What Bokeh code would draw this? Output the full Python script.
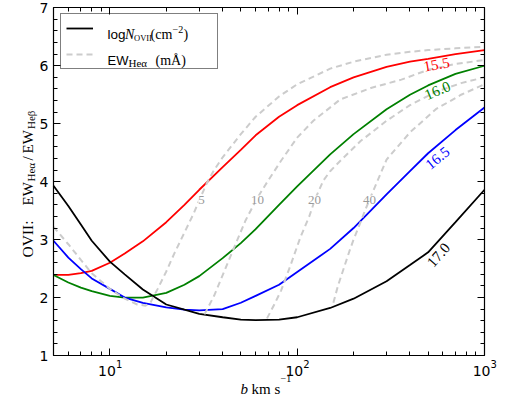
from math import log10, pi
from bokeh.plotting import figure
from bokeh.models import (Range1d, LinearAxis, LogAxis, Label, Legend, LegendItem,
                          FixedTicker, SingleIntervalTicker, CustomJSTickFormatter)
from bokeh.embed import file_html
from bokeh.resources import INLINE

# ---------------- data ----------------
b_kms = [5, 6, 7, 8, 10, 12, 15, 20, 25, 30, 40, 50, 60, 80, 100, 150, 200, 300, 400, 500, 700, 1000]
ratio_N155 = [2.39, 2.39, 2.42, 2.46, 2.60, 2.76, 2.97, 3.30, 3.60, 3.86, 4.25, 4.55, 4.80, 5.12, 5.32, 5.63, 5.80, 5.98, 6.07, 6.12, 6.20, 6.27]
ratio_N160 = [2.39, 2.26, 2.17, 2.11, 2.03, 2.00, 2.00, 2.08, 2.22, 2.37, 2.68, 2.94, 3.18, 3.60, 3.92, 4.47, 4.82, 5.25, 5.50, 5.66, 5.86, 6.00]
ratio_N165 = [2.98, 2.69, 2.49, 2.33, 2.15, 2.00, 1.91, 1.83, 1.79, 1.78, 1.80, 1.91, 2.03, 2.22, 2.44, 2.84, 3.20, 3.78, 4.18, 4.49, 4.89, 5.28]
ratio_N170 = [3.93, 3.58, 3.26, 2.98, 2.62, 2.40, 2.14, 1.88, 1.79, 1.72, 1.66, 1.62, 1.61, 1.62, 1.66, 1.82, 1.98, 2.28, 2.56, 2.78, 3.30, 3.86]
logN_labels = ["15.5", "16.0", "16.5", "17.0"]

ew5_b = [5, 6, 7, 8, 10, 12, 14, 15.5, 16.5, 18, 20, 22, 25, 28, 30, 33, 36, 40, 50, 60, 80, 100, 150, 200, 300, 400, 500, 700, 1000]
ew5_r = [3.22, 2.92, 2.65, 2.42, 2.15, 1.98, 1.88, 1.86, 1.92, 2.15, 2.45, 2.75, 3.12, 3.45, 3.68, 3.98, 4.20, 4.42, 4.82, 5.12, 5.47, 5.68, 5.95, 6.07, 6.19, 6.24, 6.27, 6.30, 6.33]
ew10_b = [32, 36, 41, 47, 53, 61, 70, 82, 100, 122, 170, 250, 360, 500, 700, 1000]
ew10_r = [1.71, 2.03, 2.47, 2.93, 3.33, 3.71, 4.02, 4.36, 4.76, 5.05, 5.42, 5.62, 5.76, 5.93, 6.03, 6.10]
ew20_b = [69, 76, 82, 92, 104, 116, 125, 138, 150, 170, 218, 300, 400, 550, 750, 1000]
ew20_r = [1.64, 1.90, 2.12, 2.55, 3.04, 3.40, 3.71, 4.02, 4.18, 4.36, 4.70, 5.05, 5.32, 5.55, 5.70, 5.80]
ew40_b = [156, 165, 175, 190, 200, 213, 230, 250, 300, 400, 550, 750, 1000]
ew40_r = [1.91, 2.20, 2.45, 2.80, 3.00, 3.22, 3.50, 3.78, 4.38, 4.85, 5.25, 5.50, 5.68]
ew_labels = ["5", "10", "20", "40"]

x_major = [10, 100, 1000]
x_min, x_max = 5, 1000
y_min, y_max = 1, 7

# ---------------- layout (page pixels of the data box) ----------------
W, H = 526, 395
FL, FR, FT, FB = 53, 484, 7.3, 355
LX0, LX1 = log10(x_min), log10(x_max)

def dx(px):   # page px -> data x
    return 10 ** (LX0 + (px - FL) / (FR - FL) * (LX1 - LX0))

def dy(py):   # page py -> data y
    return y_max - (py - FT) / (FB - FT) * (y_max - y_min)

p = figure(x_axis_type="log", x_axis_location=None, y_axis_location=None,
           x_range=Range1d(dx(0), dx(W)), y_range=Range1d(dy(H), dy(0)),
           width=W, height=H, min_border=0,
           output_backend="svg", toolbar_location=None,
           background_fill_color="white", border_fill_color="white")
p.outline_line_color = None
p.grid.visible = False

minor_x = [m * 10 ** e for e in (0, 1, 2) for m in range(2, 10) if x_min <= m * 10 ** e <= x_max]
xticker = FixedTicker(ticks=x_major, minor_ticks=minor_x)
yticker = SingleIntervalTicker(interval=1, num_minor_ticks=5)
blank = CustomJSTickFormatter(code="return ''")

def style_axis(ax, show_labels):
    ax.major_tick_in = 7
    ax.major_tick_out = 0
    ax.minor_tick_in = 4
    ax.minor_tick_out = 0
    ax.major_tick_line_color = "black"
    ax.minor_tick_line_color = "black"
    ax.axis_line_color = "black"
    ax.axis_line_width = 1.2
    if show_labels:
        ax.major_label_text_font = "DejaVu Sans"
        ax.major_label_text_font_size = "14px"
        ax.major_label_text_color = "black"
        ax.major_label_standoff = 5
    else:
        ax.formatter = blank
        ax.major_label_text_font_size = "2px"
        ax.major_label_standoff = 0

ax_b = LogAxis(ticker=xticker, fixed_location=y_min, bounds=(x_min, x_max))
ax_t = LogAxis(ticker=xticker, fixed_location=y_max, bounds=(x_min, x_max))
ax_l = LinearAxis(ticker=yticker, fixed_location=x_min, bounds=(y_min, y_max))
ax_r = LinearAxis(ticker=yticker, fixed_location=x_max, bounds=(y_min, y_max))
style_axis(ax_b, False)
style_axis(ax_t, False)
style_axis(ax_l, True)
style_axis(ax_r, False)
p.add_layout(ax_b, "below")
p.add_layout(ax_t, "above")
p.add_layout(ax_l, "left")
p.add_layout(ax_r, "right")

# ---------------- curves ----------------
colors = ["#ff0000", "#008000", "#0000ff", "#000000"]
series = [ratio_N155, ratio_N160, ratio_N165, ratio_N170]
solid = []
for ys, c in zip(series, colors):
    solid.append(p.line(b_kms, ys, line_color=c, line_width=1.8))

dash_kw = dict(line_color="#cccccc", line_width=2, line_dash="6 4")
ew_r = [p.line(ew5_b, ew5_r, **dash_kw),
        p.line(ew10_b, ew10_r, **dash_kw),
        p.line(ew20_b, ew20_r, **dash_kw),
        p.line(ew40_b, ew40_r, **dash_kw)]

# ---------------- legend (box + samples) ----------------
leg = Legend(items=[LegendItem(label="\u00a0", renderers=[solid[3]]),
                    LegendItem(label="\u00a0", renderers=[ew_r[0]])],
             location=(60, H - 69), padding=5, spacing=8,
             glyph_width=27, glyph_height=18, label_height=18,
             label_width=104, label_standoff=15,
             border_line_color="black", border_line_width=1,
             background_fill_color="white", background_fill_alpha=0.0,
             label_text_font_size="10px")
p.add_layout(leg)

def txt(px, py, s, size, font="Liberation Serif", style="normal", color="black",
        align="left", baseline="alphabetic", angle=0.0, bg=None):
    lab = Label(x=dx(px), y=dy(py), text=s, text_font=font, text_font_size=f"{size}px",
                text_font_style=style, text_color=color, text_align=align,
                text_baseline=baseline, angle=angle, level="overlay")
    if bg is not None:
        lab.background_fill_color = bg
        lab.background_fill_alpha = 1.0
    p.add_layout(lab)

# legend texts
txt(107, 34, "log", 13.5, font="Liberation Sans")
txt(124.5, 34, "N", 14, style="italic")
txt(133.5, 37, "OVII", 8.5)
txt(150, 34, "(cm", 14)
txt(172, 28.5, "\u22122", 10)
txt(183, 34, ")", 14)
txt(107, 59.5, "EW", 13, font="Liberation Sans")
txt(128, 62.5, "He\u03b1", 11)
txt(155, 59.5, "(m\u00c5)", 14)

# x tick labels 10^n
for t in x_major:
    tpx = FL + (log10(t) - LX0) / (LX1 - LX0) * (FR - FL)
    txt(tpx + 6, 370, "10", 14, font="DejaVu Sans", align="right")
    txt(tpx + 6, 363, str(int(round(log10(t)))), 10, font="DejaVu Sans")

# x axis label
txt(240, 388, "b", 15, style="italic")
txt(251, 388, "km s", 15)
txt(280, 378, "\u22121", 10)

# y axis label (rotated)
a = pi / 2
txt(27, 257, "OVII:", 15.5, angle=a)
txt(27, 205, "EW", 15, angle=a)
txt(30.5, 181, "He\u03b1", 11, angle=a)
txt(27, 160, "/", 15, angle=a)
txt(27, 153, "EW", 15, angle=a)
txt(30.5, 128.5, "He\u03b2", 11, angle=a)

# logN curve labels
lab_pos = [(436, 64, 10), (437, 90, 23), (437, 157.5, 39), (438, 254.5, 48.5)]
for s, c, (px, py, ang) in zip(logN_labels, colors, lab_pos):
    txt(px, py, s, 15, color=c, align="center", baseline="middle", angle=ang * pi / 180)

# EW contour labels
for s, px in zip(ew_labels, [201, 257, 314, 369]):
    txt(px, 199, s, 13, color="#999999", align="center", baseline="middle", bg="white")

open("out.html", "w").write(file_html(p, INLINE))
